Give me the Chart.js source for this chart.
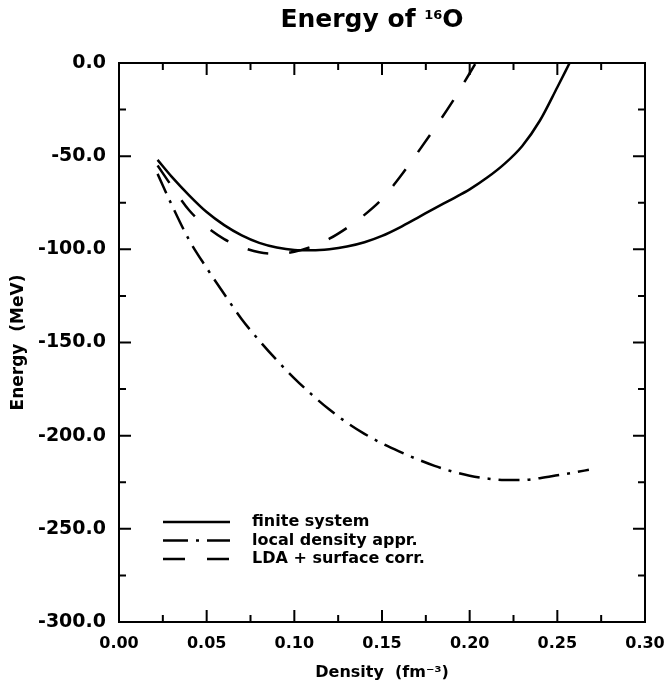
<!DOCTYPE html>
<html><head><meta charset="utf-8">
<script src="https://cdn.jsdelivr.net/npm/chart.js@4.4.0/dist/chart.umd.min.js"></script>
<style>html,body{margin:0;padding:0;background:#fff;}#wrap{width:665px;height:694px;}</style>
</head><body><div id="wrap"><canvas id="c" width="665" height="694"></canvas></div>
<script>
// ---- data ----
const finiteX = [0.022,0.03,0.04,0.05,0.06,0.07,0.08,0.09,0.10,0.11,0.12,0.13,0.14,0.15,0.16,0.17,0.18,0.19,0.20,0.21,0.22,0.23,0.24,0.25,0.257];
const finiteY = [-52,-61,-71,-80,-87,-92.5,-96.5,-99,-100.3,-100.5,-99.9,-98.5,-96.2,-92.8,-88.3,-83.2,-78,-73,-67.8,-61.5,-54,-44.5,-31,-13,0];
const ldaX = [0.022,0.03,0.04,0.05,0.06,0.07,0.08,0.09,0.10,0.11,0.12,0.13,0.14,0.15,0.16,0.17,0.18,0.19,0.20,0.21,0.22,0.23,0.24,0.25,0.26,0.268];
const ldaY = [-59.5,-76,-95,-110,-124,-137.5,-149,-159.5,-169.2,-178,-186,-193,-199,-204.2,-208.6,-212.6,-216.2,-219.2,-221.5,-223,-223.8,-223.8,-222.8,-221.3,-219.7,-218.3];
const surfX = [0.022,0.03,0.04,0.05,0.06,0.07,0.08,0.09,0.10,0.11,0.12,0.13,0.14,0.15,0.16,0.17,0.18,0.19,0.20,0.2035];
const surfY = [-55,-66,-79,-88,-94.5,-98.8,-101.6,-102.3,-101.3,-98.5,-94.3,-88.5,-81.5,-73,-61.5,-48.5,-35,-21,-5.5,0];
const seriesNames = ['finite system','local density appr.','LDA + surface corr.'];
const xTicks = [0,0.05,0.10,0.15,0.20,0.25,0.30];
const xTickLabels = ['0.00','0.05','0.10','0.15','0.20','0.25','0.30'];
const xMinor = [0.025,0.075,0.125,0.175,0.225,0.275];
const yTicks = [0,-50,-100,-150,-200,-250,-300];
const yTickLabels = ['0.0','-50.0','-100.0','-150.0','-200.0','-250.0','-300.0'];
const yMinor = [-25,-75,-125,-175,-225,-275];
const titleMain = 'Energy of ';
const titleSup = '16';
const titleEnd = 'O';
const xTitle = 'Density  (fm\u207B\u00B3)';
const yTitle = 'Energy  (MeV)';

const pts = (xs, ys) => xs.map((v, i) => ({x: v, y: ys[i]}));
const FONT = '"DejaVu Sans", sans-serif';
const dashes = [[], [21, 8, 3, 8], [21, 21]];

const decor = {
  id: 'decor',
  afterDatasetsDraw(chart) {
    const {ctx, chartArea: a, scales: {x, y}} = chart;
    ctx.save();
    ctx.strokeStyle = '#000';
    ctx.lineWidth = 2;
    ctx.setLineDash([]);
    ctx.strokeRect(a.left, a.top, a.right - a.left, a.bottom - a.top);
    ctx.beginPath();
    const xt = (vals, len) => vals.forEach(v => {
      const p = x.getPixelForValue(v);
      ctx.moveTo(p, a.bottom); ctx.lineTo(p, a.bottom - len);
      ctx.moveTo(p, a.top); ctx.lineTo(p, a.top + len);
    });
    const yt = (vals, len) => vals.forEach(v => {
      const p = y.getPixelForValue(v);
      ctx.moveTo(a.left, p); ctx.lineTo(a.left + len, p);
      ctx.moveTo(a.right, p); ctx.lineTo(a.right - len, p);
    });
    xt(xTicks, 12); xt(xMinor, 7); yt(yTicks, 12); yt(yMinor, 7);
    ctx.stroke();
    // legend
    ctx.font = 'bold 16px ' + FONT;
    ctx.fillStyle = '#000';
    ctx.textBaseline = 'middle';
    ctx.textAlign = 'left';
    chart.data.datasets.forEach((ds, i) => {
      const yy = a.top + 459 + i * 18.5;
      ctx.beginPath();
      ctx.lineWidth = 2.5;
      ctx.setLineDash(i === 2 ? [22, 22] : (i === 1 ? [25, 8, 3, 8] : []));
      ctx.moveTo(a.left + 44, yy); ctx.lineTo(a.left + 111, yy);
      ctx.stroke();
      ctx.setLineDash([]);
      ctx.fillText(ds.label, a.left + 133, yy);
    });
    ctx.restore();
  },
  afterDraw(chart) {
    const {ctx, chartArea: a} = chart;
    ctx.save();
    ctx.fillStyle = '#000';
    ctx.textBaseline = 'alphabetic';
    ctx.textAlign = 'left';
    const big = 'bold 25px ' + FONT, small = 'bold 13px ' + FONT;
    ctx.font = big; const w1 = ctx.measureText(titleMain).width, w3 = ctx.measureText(titleEnd).width;
    ctx.font = small; const w2 = ctx.measureText(titleSup).width;
    const total = w1 + w2 + w3;
    let sx = (a.left + a.right) / 2 - 10 - total / 2;
    const base = 27;
    ctx.font = big; ctx.fillText(titleMain, sx, base);
    ctx.font = small; ctx.fillText(titleSup, sx + w1, base - 8);
    ctx.font = big; ctx.fillText(titleEnd, sx + w1 + w2, base);
    ctx.restore();
  }
};

new Chart(document.getElementById('c'), {
  type: 'line',
  data: {
    datasets: [
      {label: seriesNames[0], data: pts(finiteX, finiteY), borderDash: dashes[0]},
      {label: seriesNames[1], data: pts(ldaX, ldaY), borderDash: dashes[1]},
      {label: seriesNames[2], data: pts(surfX, surfY), borderDash: dashes[2]}
    ].map(d => Object.assign(d, {borderColor: '#000', borderWidth: 2.5, pointRadius: 0, fill: false, cubicInterpolationMode: 'monotone'}))
  },
  options: {
    responsive: false, animation: false, devicePixelRatio: 1,
    layout: {padding: {top: 63, right: 20, left: 0, bottom: 0}},
    plugins: {legend: {display: false}, title: {display: false}, tooltip: {enabled: false}},
    scales: {
      x: {
        type: 'linear', min: 0, max: 0.3,
        afterBuildTicks: s => { s.ticks = xTicks.map(v => ({value: v})); },
        afterFit: s => { s.height = 72; s.paddingLeft = 0; s.paddingRight = 0; },
        grid: {display: false, drawTicks: false},
        border: {display: false},
        ticks: {color: '#000', font: {family: FONT, size: 16, weight: 'bold'}, padding: 12, maxRotation: 0,
          callback: (v) => xTickLabels[xTicks.findIndex(t => Math.abs(t - v) < 1e-9)]},
        title: {display: true, text: xTitle, color: '#000', font: {family: FONT, size: 16, weight: 'bold'}, padding: {top: 0, bottom: 12}}
      },
      y: {
        type: 'linear', min: -300, max: 0,
        afterBuildTicks: s => { s.ticks = yTicks.map(v => ({value: v})); },
        afterFit: s => { s.width = 119; s.paddingTop = 0; s.paddingBottom = 0; },
        grid: {display: false, drawTicks: false},
        border: {display: false},
        ticks: {color: '#000', font: {family: FONT, size: 19, weight: 'bold'}, padding: 13,
          callback: (v) => yTickLabels[yTicks.findIndex(t => Math.abs(t - v) < 1e-9)]},
        title: {display: true, text: yTitle, color: '#000', font: {family: FONT, size: 17, weight: 'bold'}, padding: {top: 8, bottom: 0}}
      }
    }
  },
  plugins: [decor]
});
</script></body></html>
